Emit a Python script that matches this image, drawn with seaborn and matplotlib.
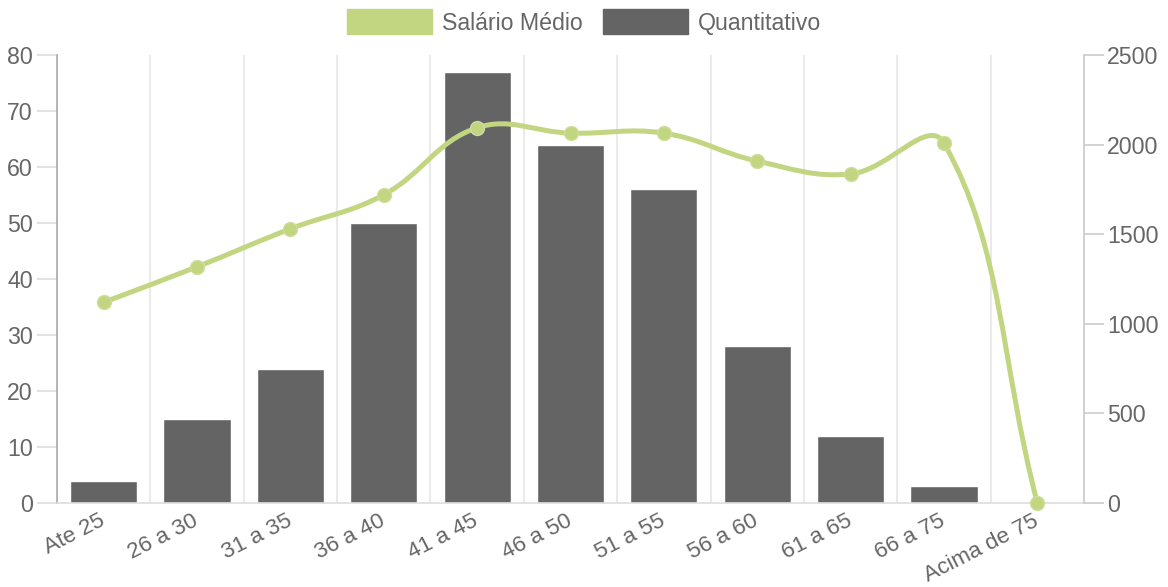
import numpy as np
import seaborn as sns
import matplotlib.pyplot as plt
from matplotlib.path import Path
from matplotlib.patches import PathPatch, Patch

faixas = ["Ate 25", "26 a 30", "31 a 35", "36 a 40", "41 a 45", "46 a 50",
          "51 a 55", "56 a 60", "61 a 65", "66 a 75", "Acima de 75"]
quantitativo = [4, 15, 24, 50, 77, 64, 56, 28, 12, 3, 0]
salario_medio = [1120, 1318, 1530, 1720, 2094, 2064, 2064, 1908, 1836, 2008, 0]

verde = "#c2d580"
cinza = "#646464"
texto = "#666666"
fs = 16.7

sns.set_theme(style="white")
plt.rcParams['font.family'] = ['Liberation Sans', 'DejaVu Sans']


def spline_chartjs(pts, t=0.4):
    # curva igual ao Chart.js (tension 0.4), calculada em pixels
    n = len(pts)
    ctrl = []
    for i in range(n):
        ant = pts[max(i - 1, 0)]
        cur = pts[i]
        prox = pts[min(i + 1, n - 1)]
        d01 = np.hypot(*(cur - ant))
        d12 = np.hypot(*(prox - cur))
        tot = d01 + d12
        s01 = d01 / tot if tot else 0
        s12 = d12 / tot if tot else 0
        ctrl.append((cur - t * s01 * (prox - ant), cur + t * s12 * (prox - ant)))
    verts = [pts[0]]
    codes = [Path.MOVETO]
    for i in range(n - 1):
        verts += [ctrl[i][1], ctrl[i + 1][0], pts[i + 1]]
        codes += [Path.CURVE4] * 3
    return np.array(verts), codes


fig = plt.figure(figsize=(11.68, 5.87), dpi=100)
ax = fig.add_axes([57 / 1168, 84 / 587, 1027 / 1168, 448 / 587])

sns.barplot(x=faixas, y=quantitativo, color=cinza, saturation=1, width=0.72, ax=ax)
ax.set_xlim(-0.5, len(faixas) - 0.5)
ax.set_ylim(0, 80)
ax.set_yticks(range(0, 81, 10))
ax.set_xticks(range(len(faixas)))
ax.set_xticklabels(faixas, rotation=27, ha='right', va='center', rotation_mode='anchor')
ax.set_xticks(np.arange(-0.5, len(faixas), 1), minor=True)
ax.grid(which='minor', axis='x', color='#e6e6e6', lw=1.2)
ax.set_axisbelow(True)
ax.tick_params(axis='x', which='major', length=0, pad=12, labelsize=16.2, labelcolor=texto)
ax.tick_params(axis='x', which='minor', length=14.4, color='#e6e6e6', width=1.2)
ax.tick_params(axis='y', left=True, length=14.4, color='#dddddd', width=1.2, pad=3,
               labelsize=fs, labelcolor=texto)
ax.set_xlabel("")
ax.set_ylabel("")
for s in ["top", "right"]:
    ax.spines[s].set_visible(False)
ax.spines["left"].set_color("#aaaaaa")
ax.spines["left"].set_linewidth(1.2)
ax.spines["bottom"].set_color("#dddddd")
ax.spines["bottom"].set_linewidth(1.2)

ax2 = ax.twinx()
ax2.set_ylim(0, 2500)
ax2.set_yticks(range(0, 2501, 500))
ax2.tick_params(axis='y', right=True, length=14.4, color='#cccccc', width=1.2, pad=2,
                labelsize=fs, labelcolor=texto)
for s in ["top", "left", "bottom"]:
    ax2.spines[s].set_visible(False)
ax2.spines["right"].set_color("#cccccc")
ax2.spines["right"].set_linewidth(1.2)

xs = np.arange(len(faixas))
pix = ax2.transData.transform(np.column_stack([xs, salario_medio]))
verts, codes = spline_chartjs(pix)
verts = ax2.transData.inverted().transform(verts)
ax2.add_patch(PathPatch(Path(verts, codes), fill=False, edgecolor=verde, lw=3.6,
                        capstyle='round', joinstyle='round', clip_on=False, zorder=3))
sns.scatterplot(x=xs, y=salario_medio, ax=ax2, s=100, color=verde, edgecolor="#cfdd9c",
                linewidth=1, zorder=4, clip_on=False)

handles = [Patch(facecolor=verde, edgecolor=verde, label="Salário Médio"),
           Patch(facecolor=cinza, edgecolor=cinza, label="Quantitativo")]
fig.legend(handles=handles, loc='center', bbox_to_anchor=(0.5, 1 - 22 / 587), ncol=2,
           frameon=False, fontsize=fs, labelcolor=texto, handlelength=3.66,
           handleheight=1.25, handletextpad=0.43, columnspacing=0.86)

plt.savefig("out.png", dpi=100)
